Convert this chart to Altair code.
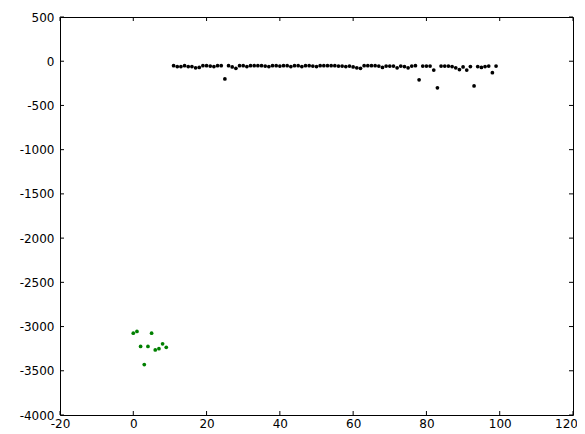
import altair as alt
import pandas as pd

# Black series (x, y)
black_x = list(range(11, 100))
black_y = [-50, -60, -60, -50, -60, -60, -75, -70, -50, -50,
           -55, -60, -50, -50, -200, -50, -65, -80, -50, -50,
           -60, -50, -50, -50, -50, -55, -60, -50, -50, -55,
           -50, -50, -60, -50, -50, -60, -50, -50, -55, -60,
           -50, -50, -50, -50, -50, -55, -55, -60, -55, -65,
           -75, -80, -50, -50, -50, -50, -55, -70, -55, -55,
           -55, -75, -55, -60, -75, -55, -50, -210, -55, -55,
           -55, -100, -300, -55, -55, -55, -60, -75, -95, -65,
           -100, -60, -280, -60, -70, -60, -55, -130, -55]

# Green series (x, y)
green_x = [0, 1, 2, 3, 4, 5, 6, 7, 8, 9]
green_y = [-3075, -3055, -3225, -3430, -3225, -3075, -3265, -3250, -3195, -3235]

x_ticks = [-20, 0, 20, 40, 60, 80, 100, 120]
y_ticks = [-4000, -3500, -3000, -2500, -2000, -1500, -1000, -500, 0, 500]

W, H = 513, 398

df = pd.DataFrame(
    {"x": black_x + green_x,
     "y": black_y + green_y,
     "s": ["black"] * len(black_x) + ["green"] * len(green_x)}
)
xt = pd.DataFrame({"v": x_ticks})
yt = pd.DataFrame({"v": y_ticks})

xscale = alt.Scale(domain=[-20, 120], nice=False, zero=False)
yscale = alt.Scale(domain=[-4000, 500], nice=False, zero=False)

xaxis = alt.Axis(values=x_ticks, grid=False, domain=False, ticks=False,
                 labelExpr="'' + datum.value", labelPadding=3, title=None,
                 labelFlush=False, labelBound=False,
                 labelOffset={"condition": {"test": "datum.value == 120", "value": -7},
                              "value": 0},
                 labelFontSize=12, labelFont="DejaVu Sans", labelColor="black")
yaxis = alt.Axis(values=y_ticks, grid=False, domain=False, ticks=False,
                 labelExpr="'' + datum.value", labelPadding=6, title=None,
                 labelFlush=False, labelBound=False,
                 labelFontSize=12, labelFont="DejaVu Sans", labelColor="black")

points = alt.Chart(df).mark_circle(size=14, opacity=1).encode(
    x=alt.X("x:Q", scale=xscale, axis=xaxis),
    y=alt.Y("y:Q", scale=yscale, axis=yaxis),
    color=alt.Color("s:N", scale=alt.Scale(domain=["black", "green"],
                                           range=["#000000", "#008000"]),
                    legend=None),
)

tb = alt.Chart(xt).mark_rule(color="black", strokeWidth=1).encode(
    x=alt.X("v:Q", scale=xscale), y=alt.value(H), y2=alt.value(H - 4))
tt = alt.Chart(xt).mark_rule(color="black", strokeWidth=1).encode(
    x=alt.X("v:Q", scale=xscale), y=alt.value(0), y2=alt.value(4))
tl = alt.Chart(yt).mark_rule(color="black", strokeWidth=1).encode(
    y=alt.Y("v:Q", scale=yscale), x=alt.value(0), x2=alt.value(4))
tr = alt.Chart(yt).mark_rule(color="black", strokeWidth=1).encode(
    y=alt.Y("v:Q", scale=yscale), x=alt.value(W), x2=alt.value(W - 4))

chart = alt.layer(points, tb, tt, tl, tr).properties(
    width=W, height=H,
    autosize=alt.AutoSizeParams(type="none"),
    padding={"left": 52, "top": 9, "right": 4, "bottom": 18},
    background="white",
).configure_view(stroke="black", strokeWidth=1)

chart.save("out.html", embed_options={"renderer": "svg", "actions": False})
